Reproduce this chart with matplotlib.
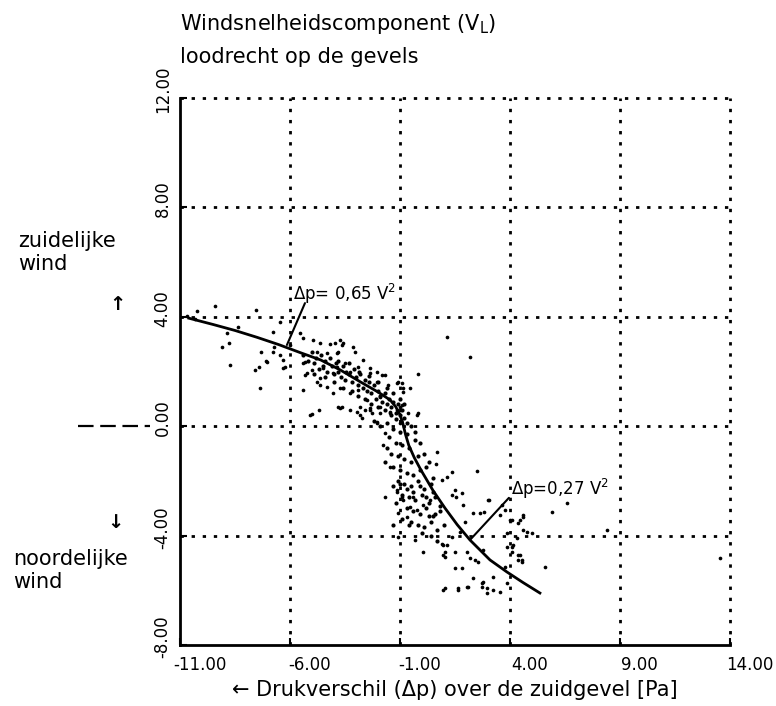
import matplotlib
matplotlib.use("Agg")
import matplotlib.pyplot as plt
import matplotlib.transforms as mtransforms
import numpy as np

# ---------------- data ----------------
x_ticks = [-11, -6, -1, 4, 9, 14]
y_ticks = [-8, -4, 0, 4, 8, 12]
x_tick_labels = ["-11.00", "-6.00", "-1.00", "4.00", "9.00", "14.00"]
y_tick_labels = ["-8.00", "-4.00", "0.00", "4.00", "8.00", "12.00"]

# fitted curve
curve_x = [-10.6, -9.5, -8.5, -7.5, -6.5, -5.5, -4.6, -3.7, -2.8, -2.0, -1.45,
           -1.2, -1.0, -0.87, -0.75, -0.6, -0.35, -0.05, 0.5, 1.05, 1.6, 2.18,
           3.09, 3.86, 4.6, 5.36]
curve_y = [3.95, 3.72, 3.5, 3.25, 2.98, 2.68, 2.42, 2.05, 1.62, 1.25, 0.96,
           0.72, 0.42, 0.1, -0.3, -0.7, -1.15, -1.6, -2.35, -3.0, -3.6, -4.16,
           -4.89, -5.33, -5.72, -6.1]

# scattered measurements: southern wind (upper part)
upper_pts = [
    (-9.41, 4.40), (-10.23, 4.21), (-7.55, 4.25), (-10.68, 4.03), (-10.32, 3.92),
    (-8.36, 3.63), (-8.86, 3.41), (-6.77, 3.44), (-6.45, 3.81), (-5.55, 3.41),
    (-9.09, 2.90), (-8.77, 3.04), (-7.32, 2.71), (-6.73, 2.90), (-6.45, 2.60),
    (-6.32, 2.42), (-8.73, 2.24), (-7.09, 2.38), (-7.41, 2.16), (-7.59, 2.05),
    (-7.36, 1.40), (-6.23, 2.16), (-5.41, 1.32), (-7.05, 2.35), (-5.32, 2.35),
    (-5.32, 1.87), (-4.64, 1.51), (-4.32, 1.43), (-5.0, 0.45), (-4.68, 0.59),
    (-4.05, 1.21), (-3.64, 0.70), (-3.27, 0.59), (-2.95, 0.52), (-2.73, 0.30),
    (-2.59, 0.59), (-2.27, 0.48), (-2.05, 0.15), (-6.32, 2.13), (-5.09, 0.41),
    (-5.41, 3.23), (-4.95, 3.15), (-4.64, 3.04), (-4.18, 3.01), (-3.73, 3.15),
    (-3.64, 2.97), (-3.14, 2.90), (-3.82, 2.71), (-4.32, 2.68), (-4.77, 2.71),
    (-5.41, 2.31), (-5.23, 1.95), (-5.0, 2.05), (-4.77, 1.62), (-4.64, 1.76),
    (-4.5, 2.13), (-4.05, 1.95), (-3.86, 2.16), (-3.5, 2.31), (-3.27, 1.98),
    (-2.91, 2.16), (-2.36, 1.95), (-1.68, 1.87), (-2.05, 1.62), (-1.14, 1.58),
    (-0.86, 1.40), (-3.73, 1.40), (-3.27, 1.21), (-2.91, 1.32), (-2.5, 0.96),
    (-1.91, 1.07), (-3.73, 0.67), (-2.82, 0.70), (-2.36, 0.67), (-2.82, 0.41),
    (-1.91, 0.48), (-1.45, 0.52), (-1.14, 0.59), (-0.91, 0.78), (-0.86, 1.25),
    (-6.0, 2.97), (-6.77, 2.71), (-3.95, 3.04), (-3.59, 3.04), (-3.05, 2.71),
    (-3.86, 2.68), (-2.68, 2.42), (-2.36, 2.13), (-2.05, 1.98), (-1.82, 1.87),
    (-1.55, 1.51), (-1.09, 1.62), (-0.91, 1.58), (-0.55, 1.40), (-0.18, 1.91),
    (-1.0, 0.70), (-0.64, 0.48), (-0.23, 0.41), (-3.82, 0.70), (-2.36, 0.59),
    (-1.91, 0.70), (-1.45, 0.48), (-1.0, 0.12), (1.15, 3.25), (2.18, 2.53),
]

# dense band along the curve
band_pts = [
    (-5.4, 2.6), (-5.2, 2.4), (-5.0, 2.7), (-4.9, 2.3), (-4.8, 2.5), (-4.7, 2.1),
    (-4.6, 2.6), (-4.5, 2.2), (-4.4, 2.4), (-4.3, 2.0), (-4.2, 2.5), (-4.1, 2.2),
    (-4.0, 1.9), (-3.9, 2.3), (-3.8, 2.0), (-3.7, 1.8), (-3.6, 2.2), (-3.5, 1.7),
    (-3.45, 2.0), (-3.3, 1.9), (-3.2, 1.6), (-3.1, 2.1), (-3.0, 1.8), (-2.9, 1.5),
    (-2.8, 1.9), (-2.7, 1.4), (-2.6, 1.7), (-2.5, 1.3), (-2.4, 1.6), (-2.3, 1.2),
    (-2.2, 1.5), (-2.1, 1.0), (-2.0, 1.3), (-1.9, 1.1), (-1.8, 0.9), (-1.7, 1.2),
    (-1.6, 0.8), (-1.5, 1.0), (-1.4, 0.7), (-1.3, 0.9), (-1.2, 0.5), (-1.1, 0.8),
    (-1.0, 0.4), (-0.9, 0.6), (-0.8, 0.3), (-0.95, 0.2), (-0.7, 0.1),
    (-4.9, 1.9), (-4.4, 1.8), (-4.0, 1.6), (-3.6, 1.4), (-3.2, 1.3), (-2.9, 1.1),
    (-2.6, 1.0), (-2.3, 0.8), (-2.0, 0.7), (-1.7, 0.6), (-1.4, 0.4), (-1.2, 0.25),
    (-3.8, 2.4), (-3.3, 2.3), (-2.85, 2.0), (-2.4, 1.85), (-2.0, 1.6), (-1.6, 1.4),
    (-1.3, 1.2), (-1.0, 1.0), (-0.8, 0.8),
    (-2.2, 0.2), (-1.9, 0.0), (-1.6, 0.1), (-1.3, -0.1), (-1.0, -0.2), (-0.7, -0.3),
    (-0.5, 0.0), (-1.5, -0.4), (-1.2, -0.6), (-0.9, -0.7), (-0.6, -0.8), (-0.3, -0.5),
    (-1.4, -1.0), (-1.1, -1.1), (-0.8, -1.2), (-0.5, -1.3), (-0.2, -1.1), (0.1, -1.0),
    (-1.3, -1.5), (-1.0, -1.6), (-0.7, -1.7), (-0.4, -1.8), (-0.1, -1.6), (0.2, -1.5),
    (-1.1, -2.0), (-0.8, -2.1), (-0.5, -2.2), (-0.2, -2.0), (0.1, -2.3), (0.4, -2.1),
    (-0.9, -2.5), (-0.6, -2.6), (-0.3, -2.7), (0.0, -2.5), (0.3, -2.8), (0.6, -2.6),
    (-0.7, -3.0), (-0.4, -3.1), (-0.1, -3.2), (0.2, -3.0), (0.5, -3.3), (0.8, -3.1),
    (-0.5, -3.5), (-0.2, -3.6), (0.1, -3.7), (0.4, -3.5), (0.7, -3.8), (1.0, -3.6),
    (-0.3, -0.2), (-0.1, -0.6), (0.3, -1.3), (0.5, -1.9), (-1.6, -0.8), (-1.7, -1.3),
    (-1.3, -2.2), (-1.0, -2.1), (-0.7, -2.3), (-0.4, -2.4), (-0.1, -2.2), (0.2, -2.6),
    (0.5, -2.4), (0.8, -2.9), (-0.9, -3.4), (-0.6, -3.6), (0.3, -3.3), (0.6, -3.2),
    (-1.2, -2.8), (-1.3, -3.6), (0.0, -3.9), (0.4, -4.0), (0.7, -4.2),
]

# northern wind (lower part)
lower_pts = [
    (-0.18, 0.48), (0.68, -0.94), (0.64, -1.38), (1.36, -1.67), (1.14, -1.86),
    (0.91, -1.97), (1.5, -2.33), (-2.05, 0.12), (-1.68, -0.25), (-1.77, -0.69),
    (-1.45, -1.49), (-1.68, -2.59), (-1.14, -2.33), (-0.91, -2.59), (-0.41, -2.59),
    (2.5, -1.65), (1.55, -2.59),
    (-1.14, -2.41), (-0.86, -2.70), (-0.55, -2.95), (-1.09, -3.17), (-0.68, -3.32),
    (-0.23, -3.06), (0.05, -2.88), (0.36, -2.70), (1.36, -2.52), (1.82, -2.44),
    (3.0, -2.70), (1.86, -2.88), (2.32, -3.17), (2.64, -3.17), (1.95, -3.50),
    (3.55, -3.25), (3.77, -3.06), (4.0, -3.43), (4.36, -3.54), (4.59, -3.25),
    (4.77, -3.87), (4.32, -4.09), (3.86, -3.90), (-1.09, -4.05), (-0.32, -4.16),
    (0.05, -4.6), (0.95, -4.34), (1.05, -4.60), (1.36, -4.05), (1.73, -3.87),
    (1.05, -4.78), (2.05, -4.6), (2.41, -4.89), (1.5, -5.18), (1.82, -5.18),
    (3.86, -4.42), (4.09, -4.60), (4.36, -4.89), (3.77, -5.15), (2.32, -5.55),
    (3.23, -5.51), (2.77, -5.70), (1.05, -5.92), (1.64, -5.92), (2.05, -5.88),
    (2.73, -5.88), (3.55, -6.06), (3.23, -5.99),
    (0.91, -4.31), (1.14, -4.34), (0.95, -4.71), (1.5, -4.60), (2.18, -4.82),
    (2.55, -4.97), (2.77, -4.53), (4.14, -4.34), (4.36, -4.71), (4.55, -4.97),
    (5.59, -5.15), (2.73, -5.73), (2.09, -5.88), (1.64, -5.99), (0.95, -5.99),
    (2.95, -6.10), (3.86, -5.73),
    (3.05, -2.70), (3.64, -2.88), (2.82, -3.14), (4.09, -3.43), (4.45, -3.43),
    (4.59, -3.32), (5.91, -3.14), (6.59, -2.81), (4.59, -3.80), (5.0, -3.90),
    (4.09, -4.42), (4.45, -4.71), (4.55, -4.89), (8.41, -3.80), (13.55, -4.82),
    (2.95, -5.92),
]

# ---------------- figure ----------------
plt.rcParams['font.family'] = ['DejaVu Sans']
W, H = 776, 706
fig = plt.figure(figsize=(W / 100, H / 100), dpi=100)
ax = fig.add_axes([180 / W, 1 - 645 / H, 550 / W, 547 / H])
ax.set_xlim(x_ticks[0], x_ticks[-1])
ax.set_ylim(y_ticks[0], y_ticks[-1])

for s in ['top', 'right']:
    ax.spines[s].set_visible(False)
for s in ['left', 'bottom']:
    ax.spines[s].set_linewidth(2.0)

dot_style = dict(color='black', lw=2.0, ls=(0, (1.2, 2.8)), clip_on=False, zorder=1)
for xv in x_ticks[1:]:
    ax.axvline(xv, **dot_style)
for yv in y_ticks[1:]:
    ax.axhline(yv, **dot_style)

# scatter
for group, size in ((upper_pts, 7), (band_pts, 9), (lower_pts, 7)):
    gx = [p[0] for p in group]
    gy = [p[1] for p in group]
    ax.scatter(gx, gy, s=size, color='black', linewidths=0, zorder=3)

ax.plot(curve_x, curve_y, color='black', lw=2.0, zorder=4)

# ticks
ax.set_xticks(x_ticks)
ax.set_xticklabels(x_tick_labels, fontsize=12)
ax.set_yticks(y_ticks)
ax.set_yticklabels(y_tick_labels, fontsize=12, rotation=90, va='center')
ax.tick_params(axis='both', direction='in', length=5, width=1.5)
ax.tick_params(axis='x', pad=8)
ax.tick_params(axis='y', pad=6)
offx = mtransforms.ScaledTranslation(14 / 72, 0, fig.dpi_scale_trans)
for lab in ax.get_xticklabels():
    lab.set_transform(lab.get_transform() + offx)
offy = mtransforms.ScaledTranslation(0, 6 / 72, fig.dpi_scale_trans)
for lab in ax.get_yticklabels():
    lab.set_transform(lab.get_transform() + offy)

# annotations
ax.text(-5.86, 4.6, "Δp= 0,65 V$^2$", fontsize=12, va='baseline', ha='left')
ax.annotate('', xy=(-6.14, 2.97), xytext=(-5.32, 4.5),
            arrowprops=dict(arrowstyle='-', lw=1.5, color='black',
                            shrinkA=0, shrinkB=0))
ax.text(4.05, -2.5, "Δp=0,27 V$^2$", fontsize=12, va='baseline', ha='left')
ax.annotate('', xy=(2.18, -4.16), xytext=(3.95, -2.62),
            arrowprops=dict(arrowstyle='-', lw=1.5, color='black',
                            shrinkA=0, shrinkB=0))

# dashed zero-line marker left of axis
ax.plot([-0.185, -0.055], [0.4, 0.4], transform=ax.transAxes, color='black',
        lw=1.6, ls=(0, (7, 3)), clip_on=False)

# texts
fig.text(180 / W, 1 - 30 / H, "Windsnelheidscomponent (V$_\\mathrm{L}$)",
         fontsize=15, ha='left', va='baseline')
fig.text(180 / W, 1 - 63 / H, "loodrecht op de gevels",
         fontsize=15, ha='left', va='baseline')
fig.text(18 / W, 1 - 270 / H, "zuidelijke\nwind", fontsize=15, ha='left',
         va='baseline', linespacing=1.2)
fig.text(117 / W, 1 - 304 / H, "↑", fontsize=14, fontweight='bold',
         ha='center', va='center')
fig.text(115 / W, 1 - 522 / H, "↓", fontsize=14, fontweight='bold',
         ha='center', va='center')
fig.text(13 / W, 1 - 588 / H, "noordelijke\nwind", fontsize=15, ha='left',
         va='baseline', linespacing=1.2)
fig.text(232 / W, 1 - 690 / H, "← Drukverschil (Δp) over de zuidgevel [Pa]",
         fontsize=15, ha='left', va='center')

fig.savefig("out.png", dpi=100)
